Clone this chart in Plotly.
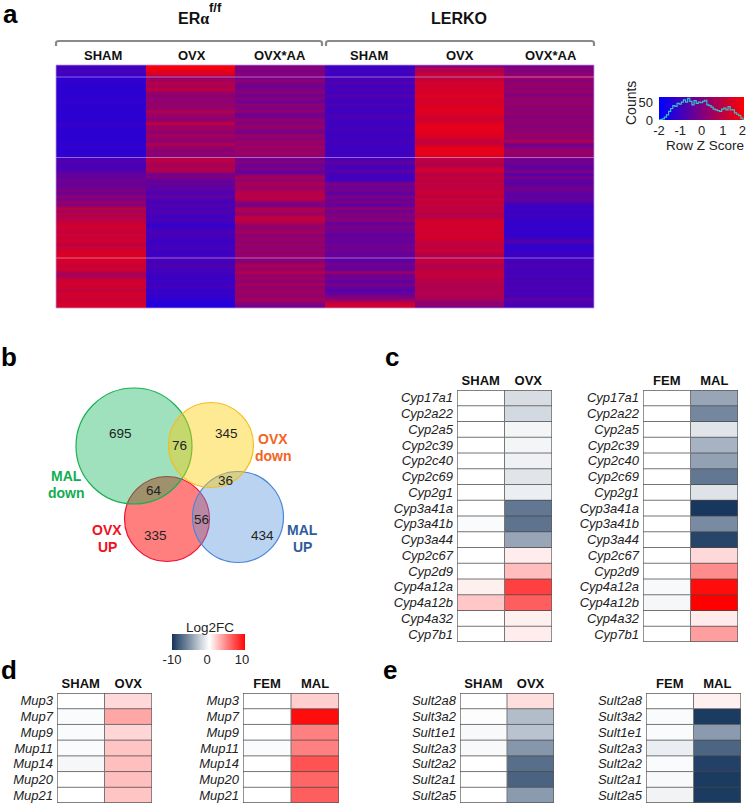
import plotly.graph_objects as go

W, H = 747, 805
FONT = "Liberation Sans"

# ---------- panel a: row z-scores (top to bottom), one list per column ----------
a_groups = ["ERα f/f", "LERKO"]
a_columns = ["SHAM", "OVX", "OVX*AA", "SHAM", "OVX", "OVX*AA"]
era_sham = [-1.0,-1.0,-0.9,-1.0,
 -1.3,-1.2,-1.3,-1.3,-1.3,-1.3,-1.3,-1.3,-1.2,-1.3,-1.3,-1.3,-1.3,-1.3,-1.3,-1.2,-1.2,-1.3,-1.3,-1.3,-1.3,-1.3,-1.2,-1.3,-1.3,-1.3,-1.2,
 -0.8,-0.7,-0.9,-0.8,-0.7,-0.4,-0.5,-0.2,-0.4,-0.3,0.0,-0.3,0.2,-0.1,0.3,0.1,1.0,0.5,0.9,0.8,1.0,1.1,1.3,
 1.2,1.0,1.3,1.1,1.3,0.9,1.2,1.3,1.4,1.4,1.4,1.3,1.1,1.3,0.8,0.5,1.0,1.3,1.2,1.3,1.0,1.3,1.3,1.1,1.3,1.4,1.3]
era_ovx = [2.0,1.8,1.5,1.4,
 0.3,0.5,0.9,0.6,1.0,0.4,0.2,0.3,0.2,0.4,0.2,0.8,0.4,0.3,0.2,1.1,0.4,0.5,0.2,0.6,0.4,0.2,0.8,0.3,0.2,0.2,0.2,
 1.0,0.8,0.6,0.8,0.7,-0.2,0.0,-0.5,-0.3,-0.6,-0.6,-0.8,-0.4,-0.8,-0.9,-0.7,-0.9,-0.7,-0.9,-1.0,-0.8,-1.1,-1.2,
 -0.9,-0.8,-1.0,-0.9,-1.1,-1.0,-0.9,-1.0,-1.1,-0.9,-0.8,-1.0,-0.7,-1.0,-0.9,-1.1,-1.1,-1.0,-1.1,-0.9,-1.2,-1.1,-1.2,-1.3,-1.4,-1.5,-1.5]
era_aa = [0.0,0.1,-0.1,0.2,
 -0.2,0.2,0.0,-0.3,-0.1,0.2,-0.3,0.1,-0.4,0.2,-0.1,0.3,-0.3,-0.1,0.3,0.0,0.4,0.1,-0.2,0.4,0.1,0.5,0.2,0.6,0.3,0.4,0.3,
 -0.3,0.1,-0.4,0.0,-0.5,0.0,0.6,0.3,0.7,0.4,0.6,0.9,0.9,0.8,0.2,-0.2,0.7,0.7,0.3,1.1,1.0,0.6,0.3,
 0.3,0.6,0.1,0.4,0.2,0.5,0.1,0.5,0.2,0.4,0.1,0.2,0.7,0.3,0.9,0.2,0.6,0.1,0.7,0.2,0.5,0.4,0.3,0.6,0.2,-0.1,-0.2]
lerko_sham = [-1.0,-1.1,-0.9,-1.1,
 -0.8,-0.9,-0.7,-1.0,-0.8,-1.0,-0.7,-0.9,-1.0,-0.8,-1.0,-1.0,-0.9,-0.8,-1.0,-1.0,-1.0,-0.9,-1.0,-1.0,-1.0,-0.9,-1.0,-1.0,-1.0,-1.0,-1.0,
 -0.8,-0.5,-0.8,-0.9,-0.6,-0.9,-1.0,-0.9,-0.1,-0.3,-0.2,-0.6,0.0,-0.4,-0.1,-0.5,0.2,-0.3,0.1,-0.1,0.2,-0.5,-0.1,
 -0.3,-0.2,-0.6,-0.3,-0.5,-0.2,-0.4,-0.1,-0.5,-0.3,-0.6,-0.4,-0.2,-0.5,0.5,-0.4,-0.1,-0.6,-0.2,-0.3,-0.7,-0.4,-0.1,0.2,1.0,1.3,1.4]
lerko_ovx = [-0.3,0.9,0.7,1.2,
 0.9,1.1,1.4,1.2,1.4,1.3,1.5,1.4,1.3,1.4,1.5,1.5,1.4,1.3,1.2,1.5,1.6,1.6,1.5,1.5,1.3,1.0,1.2,1.6,1.6,1.6,1.5,
 0.8,1.0,0.7,1.2,1.3,0.8,1.1,0.9,1.1,0.9,1.1,1.2,0.9,1.2,1.0,1.1,0.9,1.1,0.8,0.9,1.3,1.3,1.3,
 1.3,1.2,1.3,1.3,1.1,1.0,1.0,1.2,0.9,0.8,1.0,1.1,0.7,1.0,1.0,1.1,0.9,0.9,0.8,0.7,0.8,0.8,0.7,0.6,0.2,0.3,-0.6]
lerko_aa = [-0.1,0.0,0.1,0.2,
 0.6,0.1,0.3,0.3,0.2,0.4,-0.1,0.4,0.2,0.4,0.1,0.3,0.3,0.0,0.3,0.2,0.1,0.2,0.3,0.4,0.2,0.8,-0.2,0.0,0.4,0.3,0.3,
 -0.3,-0.2,-0.4,-0.6,0.1,-0.7,-0.1,-0.5,-0.6,-0.2,-0.3,-0.5,-0.6,-0.4,-0.7,-1.1,-1.0,-1.1,-1.0,-1.1,-1.1,-1.2,-1.2,
 -1.2,-1.2,-1.2,-1.0,-0.7,-1.1,-1.2,-1.2,-1.0,-1.1,-0.9,-0.9,-0.8,-0.9,-1.0,-0.8,-0.9,-0.8,-0.9,-0.8,-0.9,-0.8,-0.9,-0.5,-0.8,-0.9,-0.8]

# ---------- colour key histogram ----------
key_z = [-2.0,-1.9,-1.8,-1.7,-1.6,-1.5,-1.4,-1.3,-1.2,-1.1,-1.0,-0.9,-0.8,-0.7,-0.6,-0.5,-0.4,-0.3,-0.2,-0.1,0.0,
         0.1,0.2,0.3,0.4,0.5,0.6,0.7,0.8,0.9,1.0,1.1,1.2,1.3,1.4,1.5,1.6,1.7,1.8,1.9,2.0]
key_counts = [0,1,3,8,14,24,32,40,38,46,44,50,56,50,60,52,42,54,46,50,48,52,55,42,40,36,30,28,26,24,30,33,28,37,28,28,20,16,12,5,0]
key_ticks = ["-2", "-1", "0", "1", "2"]

# ---------- panel b ----------
venn_counts = [695, 76, 345, 64, 36, 56, 335, 434]

# ---------- panels c, d, e: log2 fold change ----------
cyp_genes = ["Cyp17a1","Cyp2a22","Cyp2a5","Cyp2c39","Cyp2c40","Cyp2c69","Cyp2g1","Cyp3a41a","Cyp3a41b","Cyp3a44",
             "Cyp2c67","Cyp2d9","Cyp4a12a","Cyp4a12b","Cyp4a32","Cyp7b1"]
cyp_sham = [0,0,0,0,0,0,0,0,-0.2,0,0,0,0.6,2.2,0,0]
cyp_ovx = [-1.7,-1.9,-0.5,-0.5,-0.7,-1.3,-0.8,-6.8,-7.0,-4.5,0.7,2.6,7.5,6.3,0.6,0.7]
cyp_fem = [0,0,0,0,0,0,0,0,0,0,0,0,-0.3,-0.4,0,0]
cyp_mal = [-4.5,-6.0,-1.3,-3.8,-4.7,-6.8,-1.4,-10,-5.8,-9.3,1.5,4.5,9.5,10,0.8,3.8]

mup_genes = ["Mup3","Mup7","Mup9","Mup11","Mup14","Mup20","Mup21"]
mup_sham = [0,-0.2,-0.2,-0.2,-0.4,0,0]
mup_ovx = [1.5,3.5,1.6,2.3,2.5,2.5,2.3]
mup_fem = [0,0,0,-0.2,0,0,0]
mup_mal = [1.9,9.5,5.0,5.0,6.8,6.0,6.3]

sult_genes = ["Sult2a8","Sult3a2","Sult1e1","Sult2a3","Sult2a2","Sult2a1","Sult2a5"]
sult_sham = [0,-0.1,-0.3,-0.3,0,0,0]
sult_ovx = [1.3,-3.3,-3.0,-5.2,-7.2,-7.8,-5.0]
sult_fem = [0,-0.2,-0.2,-0.9,-0.2,-0.3,-0.6]
sult_mal = [0.6,-9.8,-5.0,-7.7,-9.5,-9.8,-9.8]

fc_key = [-10,-8,-6,-4,-2,0,2,4,6,8,10]
fc_ticks = ["-10", "0", "10"]

for col in (era_sham, era_ovx, era_aa, lerko_sham, lerko_ovx, lerko_aa):
    assert len(col) == 81, len(col)

# ---------- helpers ----------
def fx(x): return x / W
def fy(y): return 1 - y / H

HEAT_SCALE = [[0, "#0000ff"], [1, "#ff0000"]]
FC_SCALE = [[0, "#17375e"], [0.5, "#ffffff"], [1, "#ff0000"]]

fig = go.Figure()
layout = dict(
    template="none",
    width=W, height=H, autosize=False, margin=dict(l=0, r=0, t=0, b=0),
    paper_bgcolor="white", plot_bgcolor="white", showlegend=False,
    font=dict(family=FONT, color="#222", size=13), hovermode=False,
)
shapes, annotations = [], []
n_axes = 0

def new_axes(x0, x1, y0, y1, xopts, yopts):
    global n_axes
    n_axes += 1
    s = "" if n_axes == 1 else str(n_axes)
    layout["xaxis" + s] = dict(domain=[fx(x0), fx(x1)], anchor="y" + s, automargin=False, **xopts)
    layout["yaxis" + s] = dict(domain=[fy(y1), fy(y0)], anchor="x" + s, automargin=False, **yopts)
    return "x" + s, "y" + s

def text(x, y, s, size=13, color="#222", bold=False, anchor="center", angle=0):
    annotations.append(dict(
        xref="paper", yref="paper", x=fx(x), y=fy(y), text=f"<b>{s}</b>" if bold else s,
        showarrow=False, xanchor=anchor, yanchor="middle", textangle=angle,
        font=dict(size=size, color=color, family=FONT)))

# ---------- panel a heatmap: every column sits at its two edges so only rows blend ----------
a_rows = list(range(81))
ax, ay = new_axes(56, 594, 65, 308,
    dict(range=[0, 6], visible=False),
    dict(range=[80, 0], visible=False))
a_cols = (era_sham, era_ovx, era_aa, lerko_sham, lerko_ovx, lerko_aa)
a_z = [[v for c in a_cols for v in (c[r], c[r])] for r in a_rows]
a_x = [p for i in range(6) for p in (i, i + 0.995)]
fig.add_trace(go.Heatmap(z=a_z, x=a_x, y=a_rows, xaxis=ax, yaxis=ay, colorscale=HEAT_SCALE,
                         zmin=-2, zmax=2, zsmooth="best", showscale=False, hoverinfo="skip"))
for py in (77, 157.5, 258):
    shapes.append(dict(type="line", xref="paper", yref="paper", x0=fx(56), x1=fx(594), y0=fy(py), y1=fy(py),
                       line=dict(color="rgba(225,205,255,0.5)", width=1)))
shapes.append(dict(type="rect", xref="paper", yref="paper", x0=fx(56), x1=fx(594), y0=fy(65), y1=fy(308),
                   line=dict(color="rgba(190,150,235,0.75)", width=1)))

# headers
text(193, 18, "ER<span style='font-family:Liberation Serif'>α</span>", 16, "#111", True)
text(215, 8, "f/f", 13, "#111", True)
text(459, 18, "LERKO", 16, "#111", True)
for cx, lab in zip((103, 192, 280, 369, 460, 551), a_columns):
    text(cx, 55, lab, 13, "#111", True)
for x0, x1 in ((56, 322), (326, 594)):
    path = f"M {fx(x0)} {fy(46)} L {fx(x0)} {fy(43)} Q {fx(x0)} {fy(41)} {fx(x0+3)} {fy(41)} L {fx(x1-3)} {fy(41)} Q {fx(x1)} {fy(41)} {fx(x1)} {fy(43)} L {fx(x1)} {fy(46)}"
    shapes.append(dict(type="path", xref="paper", yref="paper", path=path, line=dict(color="#8a8a8a", width=2.2)))

# ---------- colour key ----------
kx, ky = new_axes(659, 744, 97, 120,
    dict(range=[-2, 2], tickvals=[-2, -1, 0, 1, 1.92], ticktext=key_ticks, ticks="",
         showgrid=False, zeroline=False, tickfont=dict(size=13, color="#222"), ticklabelstandoff=1),
    dict(range=[0, 64], tickvals=[0, 50], ticks="", showgrid=False, zeroline=False,
         tickfont=dict(size=13, color="#222"), ticklabelstandoff=5))
fig.add_trace(go.Heatmap(z=[key_z, key_z], x=key_z, y=[0, 64], xaxis=kx, yaxis=ky, colorscale=HEAT_SCALE,
                         zmin=-2, zmax=2, zsmooth="best", showscale=False, hoverinfo="skip"))
fig.add_trace(go.Scatter(x=key_z, y=key_counts, mode="lines", line=dict(color="#2fc4cc", width=1.2, shape="hvh"),
                         xaxis=kx, yaxis=ky, hoverinfo="skip"))
text(704.5, 145.5, "Row Z Score", 13.5)
text(631, 103, "Counts", 14, angle=-90)

# ---------- panel b: Venn (drawn red, green, blue, yellow) ----------
circles = [(167, 519, 42.5, "rgba(255,0,0,0.5)", "#ee1133"),
           (134, 446, 58, "rgba(0,176,80,0.38)", "#19b050"),
           (238, 517, 45.5, "rgba(91,150,220,0.42)", "#4a86d8"),
           (211, 445, 42.5, "rgba(255,204,0,0.42)", "#f5bc1c")]
for cx, cy, r, fill, line in circles:
    shapes.append(dict(type="circle", xref="paper", yref="paper", x0=fx(cx - r), x1=fx(cx + r),
                       y0=fy(cy + r), y1=fy(cy - r), fillcolor=fill, line=dict(color=line, width=1.2)))
venn_pos = [(121, 433), (179, 445), (226, 433), (154, 491), (225, 480), (201, 519), (155, 535), (262, 535)]
for (x, y), v in zip(venn_pos, venn_counts):
    text(x, y, str(v), 13.5, "#222")
for x, y, s, c in ((66, 476, "MAL", "#12ae52"), (66, 493, "down", "#12ae52"),
                   (273, 439, "OVX", "#f26522"), (273, 456, "down", "#f26522"),
                   (107, 530, "OVX", "#f01020"), (107, 547, "UP", "#f01020"),
                   (302, 530, "MAL", "#2f5d9b"), (302, 547, "UP", "#2f5d9b")):
    text(x, y, s, 14, c, True)

# ---------- log2FC colour key ----------
cx_, cy_ = new_axes(172, 245, 634, 650,
    dict(range=[-10, 10], tickvals=[-10, -0.4, 9.2], ticktext=fc_ticks, ticks="", showgrid=False, zeroline=False,
         tickfont=dict(size=13, color="#222"), ticklabelstandoff=0),
    dict(visible=False, range=[0, 1]))
fig.add_trace(go.Heatmap(z=[fc_key, fc_key], x=fc_key, y=[0, 1], xaxis=cx_, yaxis=cy_, colorscale=FC_SCALE,
                         zmin=-10, zmax=10, zsmooth="best", showscale=False, hoverinfo="skip"))
text(210, 627, "Log2FC", 13.5)

# ---------- gene tables ----------
def table(x0, x1, y0, y1, headers, genes, left, right):
    tx, ty = new_axes(x0, x1, y0, y1,
        dict(side="top", range=[-0.5, 1.5], tickvals=[0, 1], ticktext=[f"<b>{h}</b>" for h in headers], ticks="",
             showgrid=False, zeroline=False, tickfont=dict(size=13, color="#111"), ticklabelstandoff=1),
        dict(range=[len(genes) - 0.5, -0.5], tickvals=list(range(len(genes))),
             ticktext=[f"<i>{g}</i>" for g in genes], ticks="", showgrid=False, zeroline=False,
             tickfont=dict(size=13, color="#222"), ticklabelstandoff=3))
    z = [[a, b] for a, b in zip(left, right)]
    fig.add_trace(go.Heatmap(z=z, x=[0, 1], y=list(range(len(genes))), xaxis=tx, yaxis=ty, colorscale=FC_SCALE,
                             zmin=-10, zmax=10, showscale=False, hoverinfo="skip"))
    for i in range(1, len(genes)):
        shapes.append(dict(type="line", xref=tx, yref=ty, x0=-0.5, x1=1.5, y0=i - 0.5, y1=i - 0.5,
                           line=dict(color="rgba(70,70,70,0.75)", width=1)))
    shapes.append(dict(type="line", xref=tx, yref=ty, x0=0.5, x1=0.5, y0=-0.5, y1=len(genes) - 0.5,
                       line=dict(color="#777", width=1)))
    shapes.append(dict(type="rect", xref=tx, yref=ty, x0=-0.5, x1=1.5, y0=-0.5, y1=len(genes) - 0.5,
                       line=dict(color="#5a5a5a", width=1.3)))

table(457, 552, 390, 642, ("SHAM", "OVX"), cyp_genes, cyp_sham, cyp_ovx)
table(643, 738, 390, 642, ("FEM", "MAL"), cyp_genes, cyp_fem, cyp_mal)
table(57, 152, 693, 803, ("SHAM", "OVX"), mup_genes, mup_sham, mup_ovx)
table(243, 339, 693, 803, ("FEM", "MAL"), mup_genes, mup_fem, mup_mal)
table(460, 554, 693, 803, ("SHAM", "OVX"), sult_genes, sult_sham, sult_ovx)
table(646, 741, 693, 803, ("FEM", "MAL"), sult_genes, sult_fem, sult_mal)

# ---------- panel letters ----------
for x, y, s in ((10, 14, "a"), (9, 357, "b"), (392, 357, "c"), (9, 670, "d"), (390, 670, "e")):
    text(x, y, s, 26, "#000", True)

layout["shapes"] = shapes
layout["annotations"] = annotations
fig.update_layout(**layout)
fig.write_html("out.html", config=dict(displayModeBar=False),
               post_script="document.body.style.margin='0';document.body.style.overflow='hidden';")
